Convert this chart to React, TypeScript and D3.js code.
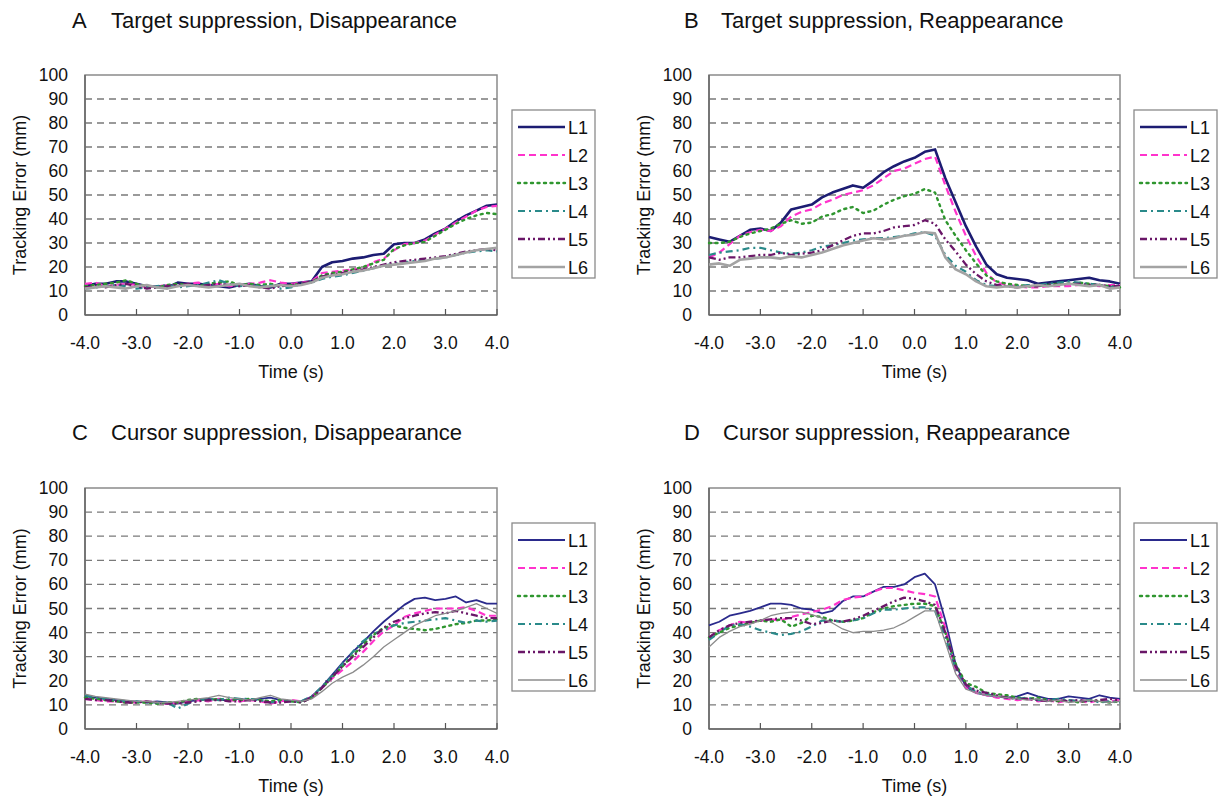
import React, { useEffect, useRef } from 'react';
import * as d3 from 'd3';

// sample times (s)
const TIME = [
  -4.0, -3.8, -3.6, -3.4, -3.2, -3.0, -2.8, -2.6, -2.4, -2.2,
  -2.0, -1.8, -1.6, -1.4, -1.2, -1.0, -0.8, -0.6, -0.4, -0.2,
  0.0, 0.2, 0.4, 0.6, 0.8, 1.0, 1.2, 1.4, 1.6, 1.8,
  2.0, 2.2, 2.4, 2.6, 2.8, 3.0, 3.2, 3.4, 3.6, 3.8, 4.0,
];
const X_TICKS = [-4, -3, -2, -1, 0, 1, 2, 3, 4];
const Y_TICKS = [0, 10, 20, 30, 40, 50, 60, 70, 80, 90, 100];
const SERIES_NAMES = ['L1', 'L2', 'L3', 'L4', 'L5', 'L6'];

// A: target suppression, disappearance
const A_L1 = [12, 13, 13, 14, 14, 13, 12, 12, 11.5, 13.5, 13, 13, 12.5, 12, 11.5, 12.5, 13, 12, 11.5, 13, 13, 13.5, 14, 20, 22, 22.5, 23.5, 24, 25, 25.5, 29.5, 30, 30, 31.5, 34, 36, 39, 41.5, 43.5, 45.5, 46];
const A_L2 = [13, 13.5, 12, 12.5, 13, 12.5, 11.5, 12, 12.5, 12, 13, 13.5, 12.5, 13, 12, 12.5, 13, 13.5, 14.5, 13.5, 13, 13.5, 14, 17.5, 18, 18.5, 19, 19.5, 22, 23.5, 27, 29.5, 30, 31, 33.5, 36, 38.5, 41, 43.5, 45, 45.5];
const A_L3 = [12, 12.5, 13, 13.5, 14.5, 13, 12, 11.5, 12.5, 13, 12.5, 12, 13, 13.5, 14, 12.5, 13, 12.5, 13, 12, 12.5, 13, 13.5, 16.5, 17.5, 18, 19, 20, 21.5, 23, 27.5, 29, 30, 30.5, 33, 35.5, 38, 40, 41.5, 42.5, 42];
const A_L4 = [11, 11.5, 12, 12.5, 12, 11, 11.5, 12, 12.5, 11.5, 12, 12.5, 13.5, 14.5, 13, 12, 12.5, 12, 12.5, 11, 11.5, 13, 13.5, 15, 16, 16.5, 17.5, 18.5, 19.5, 20.5, 21.5, 22, 22.5, 23, 23.5, 24, 25, 26, 26.5, 27, 26.5];
const A_L5 = [11.5, 12, 11.5, 12.5, 13, 12, 11, 11.5, 12, 12.5, 13, 12, 12.5, 13, 12.5, 12, 12.5, 11.5, 11, 12, 12.5, 13, 14, 16, 17, 17.5, 18.5, 19, 20, 21, 22, 22.5, 23, 23.5, 24, 24.5, 25.5, 26.5, 27, 27.5, 27];
const A_L6 = [11, 11.5, 12, 11.5, 11, 12, 12.5, 11.5, 11, 12, 12.5, 12, 11.5, 12, 12.5, 13, 12, 11.5, 12, 12.5, 12, 12.5, 13.5, 15.5, 16.5, 17, 18, 18.5, 19.5, 20.5, 21, 21.5, 22, 22.5, 23.5, 24, 25, 26, 27, 27.5, 28];

// B: target suppression, reappearance
const B_L1 = [32.5, 31.5, 30.5, 33, 35.5, 36, 35, 38.5, 44, 45, 46, 49, 51, 52.5, 54, 53, 56, 59.5, 62, 64, 65.5, 68, 69, 57, 47, 37, 28.5, 21, 17, 15.5, 15, 14.5, 13, 13.5, 14, 14.5, 15, 15.5, 14.5, 14, 13];
const B_L2 = [24, 26, 29.5, 33, 34.5, 35.5, 35, 37, 41, 43, 44, 46.5, 48, 50, 51, 52, 54, 57, 60, 61, 63, 65, 66, 54, 43, 33, 24.5, 17.5, 13.5, 12.5, 12, 11.5, 11.5, 12, 12, 12, 12.5, 12.5, 12, 12.5, 12.5];
const B_L3 = [30, 30, 30.5, 32.5, 34, 35, 36, 38, 39.5, 38, 38.5, 41, 42, 44, 45, 42.5, 43.5, 46, 48, 49.5, 50.5, 52.5, 51, 39.5, 33, 27, 21.5, 16.5, 14, 13, 12.5, 12, 12, 12.5, 13, 13, 13.5, 13, 12.5, 12, 11.5];
const B_L4 = [25, 26, 26.5, 27, 28, 28, 27, 26, 25.5, 26, 27, 28.5, 29, 30, 31, 31.5, 32, 32, 32.5, 33, 34, 34.5, 33, 25, 20.5, 18, 14.5, 12.5, 12, 12, 12, 12.5, 12.5, 13, 13.5, 14, 13.5, 13, 12.5, 11.5, 12];
const B_L5 = [24, 23, 24, 24, 24.5, 25, 25, 26, 25, 25.5, 26, 27, 29, 31, 33, 34, 34, 35, 36.5, 37, 37.5, 39.5, 38, 31.5, 26.5, 21, 17, 14, 12.5, 12, 11.5, 12, 12, 12.5, 12.5, 13, 13, 12.5, 12.5, 12, 12];
const B_L6 = [21, 21.5, 20.5, 23, 23.5, 24, 24, 23.5, 24.5, 24, 25, 26, 27.5, 29, 30, 31, 32, 31.5, 32, 33, 33.5, 34.5, 34, 24, 19, 17, 14, 12, 11.5, 12, 11.5, 12, 12.5, 12, 12.5, 13, 12.5, 12, 12.5, 11, 11.5];

// C: cursor suppression, disappearance
const C_L1 = [13.5, 13, 12.5, 12, 11.5, 11.5, 11, 11.5, 11, 10.5, 11.5, 12, 12.5, 12, 12, 12.5, 12, 12.5, 13, 12, 11.5, 11.5, 13.5, 17.5, 22.5, 27.5, 32, 36, 40.5, 44.5, 48, 51.5, 54, 54.5, 53.5, 54, 55, 52.5, 53.5, 52, 52];
const C_L2 = [12.5, 12, 11.5, 11.5, 11, 11, 11.5, 11, 10.5, 11, 11.5, 12, 11.5, 12.5, 12, 11.5, 12, 11.5, 10.5, 11.5, 12, 11.5, 13, 17, 21, 24.5, 28, 32, 36.5, 40.5, 43, 46.5, 48, 49, 50, 50, 50, 50.5, 49, 47, 47];
const C_L3 = [13, 12.5, 12, 11.5, 11, 11, 11, 10.5, 11, 11, 12, 12.5, 12, 12.5, 12, 12, 12.5, 12, 11.5, 12, 11.5, 11, 13, 17, 21.5, 26, 30.5, 35, 39, 42, 43, 42, 41.5, 41, 41.5, 42.5, 43.5, 44, 45, 45, 45.5];
const C_L4 = [14, 13, 12.5, 12, 11.5, 11.5, 11, 11, 11, 8.5, 10.5, 12, 12.5, 12, 13, 12.5, 12.5, 12, 11, 11.5, 11.5, 11.5, 13.5, 17.5, 22, 27, 32, 36.5, 39.5, 41, 43, 44, 44.5, 45, 45.5, 46, 45, 44, 45, 44.5, 45];
const C_L5 = [12.5, 12, 12, 11.5, 11, 11, 11.5, 11, 10.5, 10.5, 11, 11.5, 12, 12, 11.5, 11.5, 12, 11.5, 11, 11, 11.5, 11, 13, 17, 21.5, 26, 30, 34, 38, 42, 44.5, 46, 47, 48, 48.5, 48, 49, 48, 47, 46, 46];
const C_L6 = [14.5, 13.5, 13, 12.5, 12, 11.5, 11.5, 11, 11, 11.5, 12, 12.5, 13, 14, 13, 12.5, 12, 13, 14, 12.5, 12, 11.5, 12.5, 15.5, 19, 21.5, 23.5, 26.5, 30, 34, 37, 40, 43, 45, 47, 48, 49, 50.5, 52, 50, 48];

// D: cursor suppression, reappearance
const D_L1 = [43, 44.5, 47, 48, 49, 50.5, 52, 52, 51.5, 50, 49.5, 48, 49, 53, 55, 55, 57, 59, 59, 60, 63, 64.5, 60, 45, 27, 17.5, 15, 14, 13.5, 13, 13.5, 15, 13.5, 12.5, 12.5, 13.5, 13, 12.5, 14, 13, 12.5];
const D_L2 = [38, 41, 43, 44.5, 44, 45, 45.5, 45, 46.5, 47.5, 48.5, 49.5, 51, 53.5, 54.5, 55, 57, 58.5, 58.5, 57.5, 56.5, 56, 55, 42, 24, 17, 15, 14, 13, 12.5, 12, 12.5, 11.5, 12, 11, 12, 11.5, 11, 12, 11.5, 12];
const D_L3 = [38, 40, 42, 43, 44, 45, 44.5, 45.5, 42.5, 44, 47, 46.5, 45, 44.5, 45, 46, 48.5, 50, 51, 51.5, 52, 52, 51, 40, 27, 19, 17.5, 15, 14.5, 14, 13, 12.5, 13, 12, 11.5, 12, 11, 12, 11.5, 11, 11.5];
const D_L4 = [37, 40, 43, 43.5, 42.5, 41, 40, 39, 39.5, 40.5, 42.5, 45, 45, 44.5, 45, 46, 48, 49.5, 49.5, 50, 50.5, 50.5, 49, 38, 25, 18, 15.5, 14.5, 13.5, 13, 12.5, 13, 12, 12, 12.5, 12, 11.5, 12, 11, 11.5, 11];
const D_L5 = [38, 41, 43, 44, 44.5, 45, 45.5, 46, 46, 45, 43.5, 44, 45, 44.5, 45.5, 47, 49, 51, 53, 54.5, 54, 53, 51.5, 40, 26, 18.5, 16, 15, 14, 13, 12.5, 12.5, 12, 11.5, 12, 11.5, 12, 11.5, 12, 12.5, 12];
const D_L6 = [34, 38, 40.5, 42.5, 43.5, 45, 47, 48, 48.5, 48.5, 47.5, 46, 44, 41.5, 40, 40.5, 40.5, 41, 42, 44, 46.5, 49, 49, 36, 23, 16.5, 15, 14, 13.5, 13, 12.5, 12, 12.5, 11.5, 12, 11, 11.5, 12, 11.5, 11, 11.5];

const FONT = '"Liberation Sans", Arial, Helvetica, sans-serif';

// line look per series; the top row of panels has heavier lines
const styleFor = (i: number, heavy: boolean) => {
  const s = [
    { color: heavy ? '#1c1c72' : '#2a2a8c', width: heavy ? 2.6 : 1.8, dash: null },
    { color: '#ff33cc', width: 2.2, dash: '7,4' },
    { color: '#2f962f', width: 2.4, dash: '2,4.5' },
    { color: '#2a8a8a', width: 2.2, dash: '7,4,2,4' },
    { color: '#6a1768', width: 2.3, dash: '7,3,2,3,2,3' },
    { color: heavy ? '#a3a3a3' : '#8c8c8c', width: heavy ? 2.6 : 1.3, dash: null },
  ];
  return s[i];
};

const PANELS = [
  { letter: 'A', title: 'Target suppression, Disappearance', lx: 72, tx: 111, ty: 28, x0: 85, y0: 75, w: 412, h: 240, legX: 512, legY: 110, heavy: true, data: [A_L1, A_L2, A_L3, A_L4, A_L5, A_L6] },
  { letter: 'B', title: 'Target suppression, Reappearance', lx: 684, tx: 721, ty: 28, x0: 709, y0: 75, w: 411, h: 240, legX: 1134, legY: 110, heavy: true, data: [B_L1, B_L2, B_L3, B_L4, B_L5, B_L6] },
  { letter: 'C', title: 'Cursor suppression, Disappearance', lx: 72, tx: 111, ty: 440, x0: 85, y0: 488, w: 412, h: 241, legX: 512, legY: 523, heavy: false, data: [C_L1, C_L2, C_L3, C_L4, C_L5, C_L6] },
  { letter: 'D', title: 'Cursor suppression, Reappearance', lx: 684, tx: 723, ty: 440, x0: 709, y0: 488, w: 411, h: 241, legX: 1134, legY: 523, heavy: false, data: [D_L1, D_L2, D_L3, D_L4, D_L5, D_L6] },
];

const fmtTime = (d: number) => d3.format('.1f')(d).replace('\u2212', '-');

const App = () => {
  const ref = useRef<SVGSVGElement>(null);

  useEffect(() => {
    const svg = d3.select(ref.current);
    svg.selectAll('*').remove();
    svg.append('rect').attr('width', 1226).attr('height', 800).attr('fill', '#fff');

    PANELS.forEach(p => {
      const g = svg.append('g').attr('font-family', FONT).attr('fill', '#111');

      const x = d3.scaleLinear().domain([-4, 4]).range([p.x0, p.x0 + p.w]);
      const y = d3.scaleLinear().domain([0, 100]).range([p.y0 + p.h, p.y0]);

      // titles
      g.append('text').attr('x', p.lx).attr('y', p.ty).attr('font-size', 22).text(p.letter);
      g.append('text').attr('x', p.tx).attr('y', p.ty).attr('font-size', 22).text(p.title);

      // dashed grid
      g.selectAll('.grid')
        .data(Y_TICKS.filter(v => v > 0 && v < 100))
        .join('line')
        .attr('x1', p.x0).attr('x2', p.x0 + p.w)
        .attr('y1', d => y(d)).attr('y2', d => y(d))
        .attr('stroke', '#7a7a7a').attr('stroke-width', 1.3)
        .attr('stroke-dasharray', '7,5');

      // frame
      g.append('rect')
        .attr('x', p.x0).attr('y', p.y0).attr('width', p.w).attr('height', p.h)
        .attr('fill', 'none').attr('stroke', '#8a8a8a').attr('stroke-width', 1.5);
      g.append('line')
        .attr('x1', p.x0).attr('x2', p.x0).attr('y1', p.y0).attr('y2', p.y0 + p.h)
        .attr('stroke', '#666').attr('stroke-width', 1.5);
      g.append('line')
        .attr('x1', p.x0).attr('x2', p.x0 + p.w).attr('y1', p.y0 + p.h).attr('y2', p.y0 + p.h)
        .attr('stroke', '#666').attr('stroke-width', 1.5);

      // x ticks point up into the plot
      g.selectAll('.xt')
        .data(X_TICKS.slice(1))
        .join('line')
        .attr('x1', d => x(d)).attr('x2', d => x(d))
        .attr('y1', p.y0 + p.h).attr('y2', p.y0 + p.h - 6)
        .attr('stroke', '#555').attr('stroke-width', 1.2);

      // tick labels
      g.selectAll('.yl')
        .data(Y_TICKS)
        .join('text')
        .attr('x', p.x0 - 17).attr('y', d => y(d) + 6)
        .attr('text-anchor', 'end').attr('font-size', 17.5)
        .text(d => d);
      g.selectAll('.xl')
        .data(X_TICKS)
        .join('text')
        .attr('x', d => x(d)).attr('y', p.y0 + p.h + 34)
        .attr('text-anchor', 'middle').attr('font-size', 17.5)
        .text(d => fmtTime(d));

      g.append('text')
        .attr('x', p.x0 + p.w / 2).attr('y', p.y0 + p.h + 63)
        .attr('text-anchor', 'middle').attr('font-size', 18)
        .text('Time (s)');
      g.append('text')
        .attr('transform', `translate(${p.x0 - 59},${p.y0 + p.h / 2}) rotate(-90)`)
        .attr('text-anchor', 'middle').attr('font-size', 18)
        .text('Tracking Error (mm)');

      // series
      const line = d3.line<number>()
        .x((_, i) => x(TIME[i]))
        .y(d => y(d));

      p.data.forEach((vals, i) => {
        const st = styleFor(i, p.heavy);
        g.append('path')
          .datum(vals)
          .attr('fill', 'none')
          .attr('stroke', st.color)
          .attr('stroke-width', st.width)
          .attr('stroke-dasharray', st.dash)
          .attr('stroke-linecap', i === 2 ? 'round' : 'butt')
          .attr('stroke-linejoin', 'round')
          .attr('d', line);
      });

      // legend
      const leg = g.append('g').attr('transform', `translate(${p.legX},${p.legY})`);
      leg.append('rect')
        .attr('width', 83).attr('height', 168)
        .attr('fill', '#fff').attr('stroke', '#8a8a8a').attr('stroke-width', 1.3);
      SERIES_NAMES.forEach((name, i) => {
        const st = styleFor(i, p.heavy);
        const ly = 17 + i * 28;
        leg.append('line')
          .attr('x1', 6).attr('x2', 53).attr('y1', ly).attr('y2', ly)
          .attr('stroke', st.color).attr('stroke-width', st.width)
          .attr('stroke-dasharray', st.dash)
          .attr('stroke-linecap', i === 2 ? 'round' : 'butt');
        leg.append('text')
          .attr('x', 56).attr('y', ly + 6.5)
          .attr('font-size', 18)
          .text(name);
      });
    });
  }, []);

  return (
    <svg
      ref={ref}
      width={1226}
      height={800}
      style={{ position: 'absolute', left: 0, top: 0, display: 'block' }}
    />
  );
};

export default App;
